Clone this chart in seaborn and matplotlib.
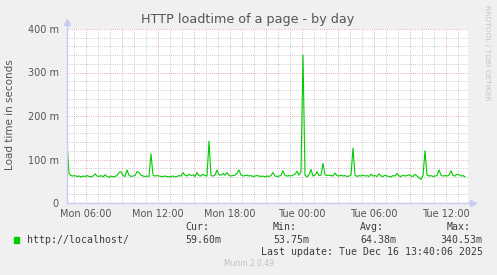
import matplotlib
matplotlib.use("Agg")
import matplotlib.pyplot as plt
from matplotlib.ticker import FixedLocator, MultipleLocator
from matplotlib.patches import Rectangle
import seaborn as sns
import pandas as pd
import numpy as np

# ---- data (load time in milliseconds, 10-minute samples) ----
start_hour = 4 + 25 / 60  # Mon 04:25
step_hours = 1 / 6
load_ms = [
    140, 68, 63, 62, 63, 61, 62, 60, 62, 61,
    63, 61, 60, 62, 67, 62, 61, 63, 60, 65,
    61, 59, 62, 60, 61, 63, 70, 72, 63, 61,
    76, 64, 61, 62, 63, 72, 70, 64, 62, 61,
    62, 61, 113, 64, 62, 63, 62, 61, 61, 62,
    61, 60, 61, 62, 60, 61, 63, 62, 70, 64,
    62, 66, 63, 65, 61, 70, 63, 62, 66, 63,
    62, 142, 63, 62, 64, 76, 65, 64, 68, 64,
    70, 63, 62, 63, 64, 68, 76, 64, 62, 63,
    64, 62, 63, 61, 62, 63, 62, 61, 62, 60,
    62, 61, 63, 70, 62, 61, 62, 63, 74, 63,
    62, 63, 62, 64, 66, 73, 64, 72, 340, 64,
    60, 65, 77, 62, 64, 72, 63, 64, 91, 65,
    63, 64, 63, 62, 69, 63, 62, 64, 62, 63,
    61, 62, 64, 126, 64, 61, 63, 62, 64, 62,
    63, 61, 66, 62, 63, 61, 67, 62, 61, 64,
    62, 61, 60, 63, 62, 68, 62, 61, 64, 62,
    63, 65, 62, 61, 66, 62, 58, 54, 63, 120,
    64, 62, 63, 61, 62, 63, 76, 64, 62, 63,
    62, 64, 74, 63, 62, 66, 65, 62, 63, 60,
]
hours = [start_hour + i * step_hours for i in range(len(load_ms))]

x_tick_hours = [6, 12, 18, 24, 30, 36]
x_tick_labels = ["Mon 06:00", "Mon 12:00", "Mon 18:00", "Tue 00:00", "Tue 06:00", "Tue 12:00"]
y_tick_values = [0, 100, 200, 300, 400]
y_tick_labels = ["0", "100 m", "200 m", "300 m", "400 m"]

series_name = "http://localhost/"
stats_headers = ["Cur:", "Min:", "Avg:", "Max:"]
stats_values = ["59.60m", "53.75m", "64.38m", "340.53m"]
title = "HTTP loadtime of a page - by day"
ylabel = "Load time in seconds"
last_update = "Last update: Tue Dec 16 13:40:06 2025"
footer = "Munin 2.0.49"
side_text = "RRDTOOL / TOBI OETIKER"

# ---- figure ----
W, H = 497, 275
fig = plt.figure(figsize=(W / 100, H / 100), dpi=100, facecolor="#f0f0f0")
ax = fig.add_axes([67 / W, (H - 203) / H, 401 / W, 174 / H])
ax.set_facecolor("white")

df = pd.DataFrame({"hour": hours, "load": load_ms})
sns.lineplot(data=df, x="hour", y="load", ax=ax, color="#00cc00", linewidth=0.8, zorder=3)

x_left = 6 - 19 / 12
x_right = 6 + (468 - 86) / 12
ax.set_xlim(x_left, x_right)
ax.set_ylim(0, 400)

# ticks: major every 3h (labels every 6h), minor every hour
major_x = [h for h in np.arange(3, 39, 3) if x_left < h < x_right]
ax.xaxis.set_major_locator(FixedLocator(major_x))
ax.set_xticklabels([x_tick_labels[x_tick_hours.index(h)] if h in x_tick_hours else "" for h in major_x])
ax.xaxis.set_minor_locator(MultipleLocator(1))
ax.yaxis.set_major_locator(FixedLocator(y_tick_values))
ax.set_yticklabels(y_tick_labels)
ax.yaxis.set_minor_locator(MultipleLocator(20))

ax.tick_params(which="both", length=0)
ax.tick_params(axis="y", pad=6, labelsize=7, labelcolor="#555555")
ax.tick_params(axis="x", pad=4, labelsize=7, labelcolor="#555555")

ax.grid(which="minor", color="#bcbcbc", linestyle=(0, (0.72, 1.44)), linewidth=0.72)
ax.grid(which="major", color="#e09a9a", linestyle=(0, (0.72, 1.44)), linewidth=0.72)
ax.set_axisbelow(True)

for s in ["top", "right"]:
    ax.spines[s].set_visible(False)
axis_col = "#c8ccf4"
for s in ["left", "bottom"]:
    ax.spines[s].set_color(axis_col)
    ax.spines[s].set_linewidth(1.0)
    ax.spines[s].set_zorder(4)

# axis extensions and arrows
ax.plot([0, 0], [1, 1.035], transform=ax.transAxes, color=axis_col, lw=1.0, clip_on=False)
ax.plot([0], [1.04], transform=ax.transAxes, marker="^", color=axis_col, markersize=4.5, clip_on=False)
ax.plot([1, 1.01], [0, 0], transform=ax.transAxes, color=axis_col, lw=1.0, clip_on=False)
ax.plot([1.012], [0], transform=ax.transAxes, marker=">", color=axis_col, markersize=4.5, clip_on=False)

ax.set_xlabel("")
ax.set_ylabel(ylabel, fontsize=7.5, color="#555555")
ax.yaxis.set_label_coords((15 - 67) / 401, 0.51)

def fx(px):
    return px / W

def fy(py):
    return 1 - py / H

fig.text(fx(247.5), fy(19), title, ha="center", va="center", fontsize=9.2, color="#555555")
fig.text(fx(487), fy(5), side_text, ha="center", va="top", rotation=270,
         fontsize=5.4, color="#c4c4c4")

mono = "DejaVu Sans Mono"
lc = "#3c3c3c"
fig.patches.append(Rectangle((fx(14), fy(242.7)), 5.3 / W, 5.4 / H,
                             transform=fig.transFigure, color="#00cc00"))
fig.text(fx(27), fy(240), series_name, ha="left", va="center", fontsize=7.1, family=mono, color=lc)
head_x = [185, 272.7, 360, 446.7]
val_right = [221.5, 309, 396.5, 482.7]
for hx, vr, hd, v in zip(head_x, val_right, stats_headers, stats_values):
    fig.text(fx(hx), fy(227.3), hd, ha="left", va="center", fontsize=7.1, family=mono, color=lc)
    fig.text(fx(vr), fy(240), v, ha="right", va="center", fontsize=7.1, family=mono, color=lc)
fig.text(fx(482.7), fy(251.7), last_update, ha="right", va="center", fontsize=7.1, family=mono, color=lc)
fig.text(fx(248.5), fy(263.7), footer, ha="center", va="center", fontsize=5.5, color="#c0c0c0")

fig.savefig("out.png", dpi=100, facecolor=fig.get_facecolor())
